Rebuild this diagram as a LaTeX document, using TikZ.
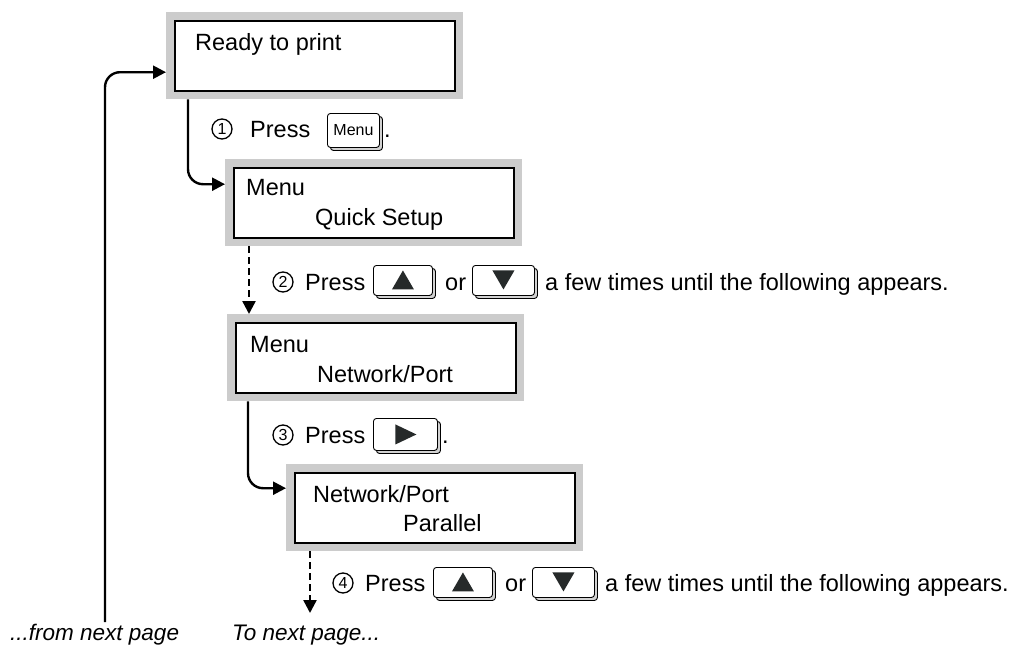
\documentclass[tikz,border=0pt]{standalone}
\usepackage{fontspec}
\setmainfont{Liberation Sans}
\usetikzlibrary{arrows.meta,calc}
\definecolor{framegray}{HTML}{CCCCCC}
\definecolor{glyphcol}{HTML}{262A2A}
\tikzset{
  frame/.style={fill=framegray, draw=none, minimum width=297pt, minimum height=87pt, inner sep=0pt, anchor=north west},
  lcd/.style={fill=white, draw=black, line width=2.3pt, minimum width=280pt, minimum height=70pt, inner sep=0pt},
  txt/.style={font=\fontsize{23.5}{27}\selectfont, inner sep=0pt, anchor=base west},
  itxt/.style={font=\fontsize{22.5}{27}\selectfont\itshape, inner sep=0pt, anchor=base west},
  circ/.style={circle, draw=black, line width=1.3pt, minimum size=20pt, inner sep=0pt, font=\fontsize{16}{18}\selectfont},
  conn/.style={line width=2.4pt, rounded corners=15pt, -{Triangle[length=13pt,width=13pt]}},
  dconn/.style={line width=2.4pt, dash pattern=on 7pt off 4pt, -{Triangle[length=13pt,width=13pt]}},
  keyshadow/.style={fill=gray!35, draw=black, line width=0.9pt, rounded corners=3pt, anchor=north west, inner sep=0pt},
  keymain/.style={fill=white, draw=black, line width=0.9pt, rounded corners=3pt, anchor=north west, inner sep=0pt},
  glyph/.style={fill=glyphcol}
}
\newcommand\kbd[5]{%
  \node[keyshadow, minimum width=#4pt, minimum height=#5pt] (#1s) at (#2+3,#3+3) {};
  \node[keymain, minimum width=#4pt, minimum height=#5pt] (#1) at (#2,#3) {};}
\begin{document}
\begin{tikzpicture}[x=1pt,y=-1pt]
\useasboundingbox (0,0) rectangle (1020,653);

% display boxes
\node[frame] (f1) at (166,12) {};
\node[lcd] (b1) at (f1.center) {};
\node[txt] (t1) at (195,50) {Ready to print};

\node[frame] (f2) at (225,159) {};
\node[lcd] (b2) at (f2.center) {};
\node[txt] (t2a) at (246,195) {Menu};
\node[txt] (t2b) at (315,225) {Quick Setup};

\node[frame] (f3) at (227,314) {};
\node[lcd] (b3) at (f3.center) {};
\node[txt] (t3a) at (250,352) {Menu};
\node[txt] (t3b) at (317,382) {Network/Port};

\node[frame] (f4) at (286,464) {};
\node[lcd] (b4) at (f4.center) {};
\node[txt] (t4a) at (313,502) {Network/Port};
\node[txt] (t4b) at (403,531) {Parallel};

% connectors
\coordinate (fromnext) at (105,622);
\draw[conn] (fromnext) |- ([yshift=-16.5pt]f1.west);
\draw[conn] ([xshift=22pt]f1.south west) |- ([yshift=18.5pt]f2.west);
\coordinate (d2) at ([xshift=24pt]f2.south west);
\draw[dconn] (d2) -- (d2 |- f3.north);
\draw[conn] ([xshift=21pt]f3.south west) |- ([yshift=19.5pt]f4.west);
\coordinate (d4) at ([xshift=24pt]f4.south west);
\coordinate (tonext) at (310,613);
\draw[dconn] (d4) -- (tonext);

% step 1
\node[circ] (n1) at (222,129) {1};
\node[txt] (p1) at (250,137) {Press};
\kbd{k1}{327}{113}{52}{34}
\node[font=\fontsize{16}{18}\selectfont, inner sep=0pt] (k1t) at (k1.center) {Menu};
\node[txt] (dot1) at (384,137) {.};

% step 2
\node[circ] (n2) at (283,282) {2};
\node[txt] (p2) at (305,290) {Press};
\kbd{k2u}{373}{265}{59}{30}
\fill[glyph] ($(k2u.center)+(-11,9)$) -- ++(22,0) -- ++(-11,-19) -- cycle;
\node[txt] (or2) at (445,290) {or};
\kbd{k2d}{472}{265}{62}{30}
\fill[glyph] ($(k2d.center)+(-11,-10)$) -- ++(22,0) -- ++(-11,19) -- cycle;
\node[txt] (r2) at (545,290) {a few times until the following appears.};

% step 3
\node[circ] (n3) at (283,435) {3};
\node[txt] (p3) at (305,443) {Press};
\kbd{k3}{373}{418}{64}{32}
\fill[glyph] ($(k3.center)+(-10,-10)$) -- ++(0,20) -- ++(21,-10) -- cycle;
\node[txt] (dot3) at (442,443) {.};

% step 4
\node[circ] (n4) at (343,583) {4};
\node[txt] (p4) at (365,591) {Press};
\kbd{k4u}{433}{567}{59}{30}
\fill[glyph] ($(k4u.center)+(-11,9)$) -- ++(22,0) -- ++(-11,-19) -- cycle;
\node[txt] (or4) at (505,591) {or};
\kbd{k4d}{532}{567}{62}{30}
\fill[glyph] ($(k4d.center)+(-11,-10)$) -- ++(22,0) -- ++(-11,19) -- cycle;
\node[txt] (r4) at (605,591) {a few times until the following appears.};

% bottom labels
\node[itxt] (lfrom) at (10,640) {...from next page};
\node[itxt] (lto) at (232,640) {To next page...};
\end{tikzpicture}
\end{document}
